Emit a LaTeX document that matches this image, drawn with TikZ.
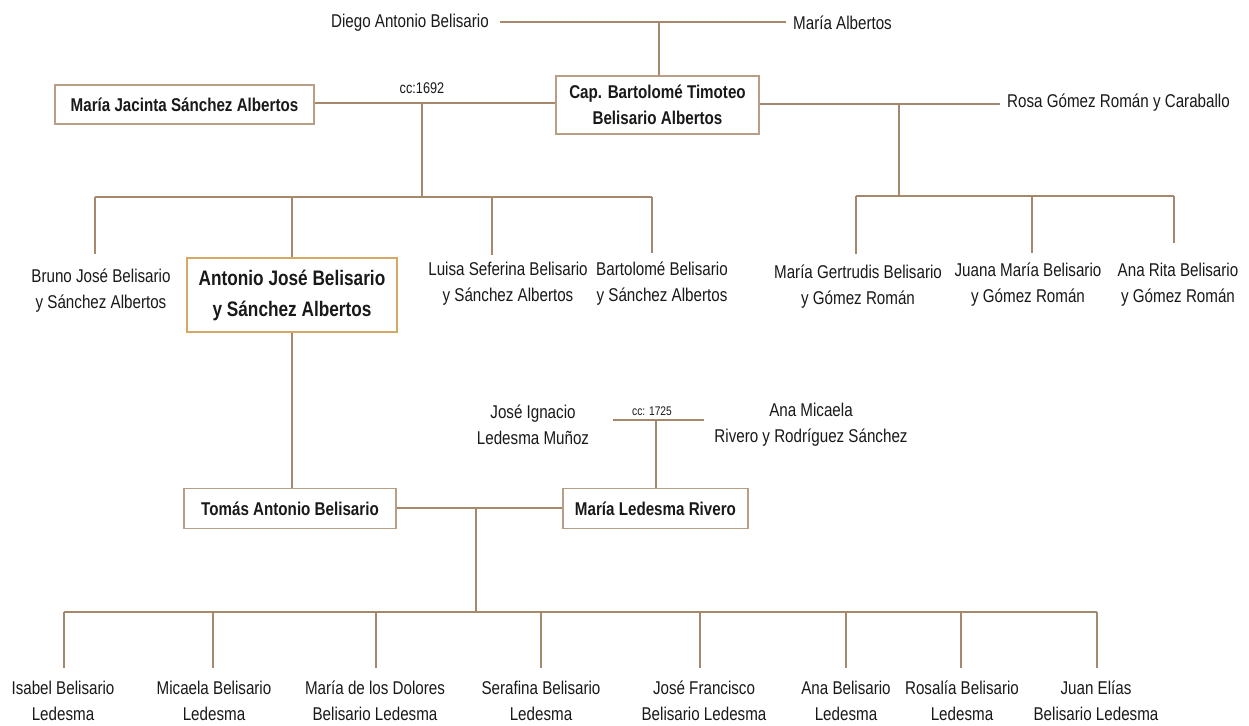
\documentclass[tikz,border=0pt]{standalone}
\usepackage{fontspec}
\setmainfont{Liberation Sans}[FakeStretch=0.82]
\definecolor{linec}{RGB}{166,137,108}
\definecolor{boxc}{RGB}{184,158,132}
\definecolor{goldc}{RGB}{214,168,102}
\definecolor{txt}{RGB}{25,25,25}
\tikzset{
  conn/.style={draw=linec, line width=2.2pt},
  person/.style={inner sep=0pt, align=center, text=txt, font=\fontsize{18.5}{26}\selectfont},
  famebox/.style={draw=boxc, line width=1.3pt, fill=white, inner sep=0pt, align=center, text=txt,
    font=\bfseries\fontsize{18.5}{26}\selectfont},
  mainbox/.style={famebox, draw=goldc, font=\bfseries\fontsize{21}{31}\selectfont},
  cclabel/.style={inner sep=0pt, text=txt, font=\fontsize{15.5}{17}\selectfont},
  cclabelsmall/.style={inner sep=0pt, text=txt, font=\fontsize{12.5}{14}\selectfont}
}
\begin{document}
\begin{tikzpicture}[x=1pt,y=-1pt]
\useasboundingbox (0,0) rectangle (1249,725);
\fill[white] (0,0) rectangle (1249,725);

% ---------- generation 1 ----------
\node[person, anchor=east] (diego) at (489,23) {Diego Antonio Belisario};
\node[person, anchor=west] (malb) at (793,23) {María Albertos};
\coordinate (m0) at (659,22);
\draw[conn, shorten <=11pt, shorten >=7pt] (diego.east |- m0) -- (malb.west |- m0);

% ---------- generation 2 ----------
\node[famebox, minimum width=203pt, minimum height=58pt] (cap) at (657.5,105)
  {Cap. Bartolomé Timoteo\\Belisario Albertos};
\draw[conn] (m0) -- (m0 |- cap.north);

\node[famebox, minimum width=259pt, minimum height=39pt] (mj) at (184.5,104.5)
  {María Jacinta Sánchez Albertos};
\node[person, anchor=west] (rosa) at (1007,103) {Rosa Gómez Román y Caraballo};

\coordinate (m1) at (422,103);
\coordinate (m2) at (899,104);
\draw[conn] (mj.east |- m1) -- (cap.west |- m1);
\draw[conn, shorten >=7pt] (cap.east |- m2) -- (rosa.west |- m2);
\node[cclabel] (cc1) at (422,88) {cc:1692};

% ---------- children of first marriage ----------
\coordinate (b1) at (422,197);
\coordinate (b1l) at (95,197);
\coordinate (b1r) at (652,197);
\draw[conn] (m1) -- (b1);
\draw[conn] (b1l) -- (b1r);

\node[person] (bruno) at (101,291) {Bruno José Belisario\\y Sánchez Albertos};
\node[mainbox, minimum width=210pt, minimum height=74pt] (antonio) at (292,295)
  {Antonio José Belisario\\y Sánchez Albertos};
\node[person] (luisa) at (508,284) {Luisa Seferina Belisario\\y Sánchez Albertos};
\node[person] (bart) at (662,284) {Bartolomé Belisario\\y Sánchez Albertos};

\coordinate (dbruno) at (95,254);
\coordinate (dluisa) at (492,255);
\coordinate (dbart) at (652,253);
\draw[conn] (b1l) -- (dbruno);
\draw[conn] (antonio.north |- b1l) -- (antonio.north);
\draw[conn] (dluisa |- b1l) -- (dluisa);
\draw[conn] (b1r) -- (dbart);

% ---------- children of second marriage ----------
\coordinate (b2) at (899,196);
\coordinate (b2l) at (856,196);
\coordinate (b2r) at (1174,196);
\draw[conn] (m2) -- (b2);
\draw[conn] (b2l) -- (b2r);

\node[person] (gert) at (858,287) {María Gertrudis Belisario\\y Gómez Román};
\node[person] (juana) at (1028,285) {Juana María Belisario\\y Gómez Román};
\node[person] (rita) at (1178,285) {Ana Rita Belisario\\y Gómez Román};

\coordinate (dgert) at (856,254);
\coordinate (djuana) at (1032,253);
\coordinate (drita) at (1174,243);
\draw[conn] (b2l) -- (dgert);
\draw[conn] (djuana |- b2l) -- (djuana);
\draw[conn] (b2r) -- (drita);

% ---------- generation 4 ----------
\node[famebox, minimum width=212pt, minimum height=40pt] (tomas) at (290,508.5)
  {Tomás Antonio Belisario};
\draw[conn] (antonio.south) -- (antonio.south |- tomas.north);

\node[person] (jose) at (533,425) {José Ignacio\\Ledesma Muñoz};
\node[person] (anam) at (811,425) {Ana Micaela\\Rivero y Rodríguez Sánchez};
\node[cclabelsmall] (cc2) at (652,411) {cc: 1725};
\coordinate (m4l) at (613,420);
\coordinate (m4r) at (704,420);
\coordinate (m4) at (656,420);
\draw[conn] (m4l) -- (m4r);

\node[famebox, minimum width=185pt, minimum height=40pt] (mled) at (655.5,508.5)
  {María Ledesma Rivero};
\draw[conn] (m4) -- (m4 |- mled.north);

\coordinate (m3) at (476,508);
\draw[conn] (tomas.east |- m3) -- (mled.west |- m3);

% ---------- generation 5 ----------
\coordinate (b3) at (476,612);
\coordinate (b3l) at (64,612);
\coordinate (b3r) at (1097,612);
\draw[conn] (m3) -- (b3);
\draw[conn] (b3l) -- (b3r);

\node[person] (isabel) at (63,701) {Isabel Belisario\\Ledesma};
\node[person] (micaela) at (214,701) {Micaela Belisario\\Ledesma};
\node[person] (dolores) at (375,701) {María de los Dolores\\Belisario Ledesma};
\node[person] (serafina) at (541,701) {Serafina Belisario\\Ledesma};
\node[person] (josef) at (704,701) {José Francisco\\Belisario Ledesma};
\node[person] (anab) at (846,701) {Ana Belisario\\Ledesma};
\node[person] (rosalia) at (962,701) {Rosalía Belisario\\Ledesma};
\node[person] (juan) at (1096,701) {Juan Elías\\Belisario Ledesma};

\foreach \n/\x in {isabel/64, micaela/213, dolores/376, serafina/541, josef/700, anab/846, rosalia/961, juan/1097}{
  \coordinate (d\n) at (\x,668);
  \draw[conn] (d\n |- b3l) -- (d\n);
}
\end{tikzpicture}
\end{document}
